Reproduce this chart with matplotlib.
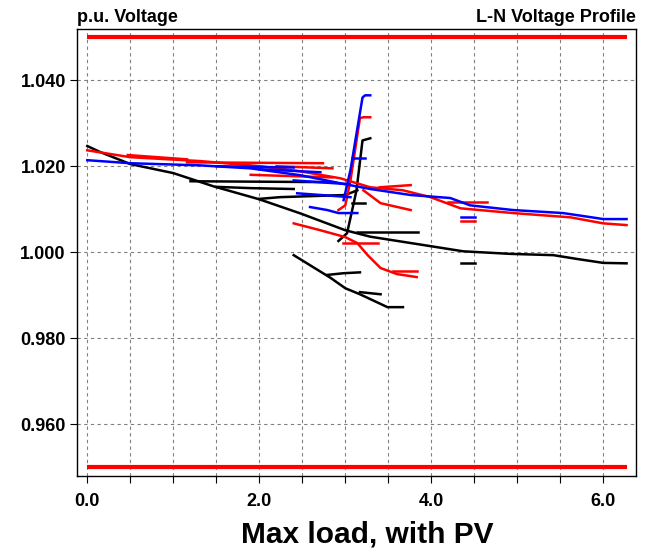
import matplotlib
matplotlib.use("Agg")
import matplotlib.pyplot as plt
from matplotlib.ticker import MultipleLocator, FormatStrFormatter

plt.rcParams['font.family'] = ['Liberation Sans', 'DejaVu Sans']
plt.rcParams['font.weight'] = 'bold'

# --- voltage limits (p.u.) ---
limit_x = [0.0, 6.27]
upper_limit = [1.05, 1.05]
lower_limit = [0.95, 0.95]

# --- black phase ---
bk_trunk_x = [0.0, 0.15, 0.5, 1.0, 1.47, 2.0, 2.48, 3.0, 3.29, 3.64, 3.99, 4.37, 4.92, 5.42, 5.7, 6.0, 6.27]
bk_trunk_y = [1.0247, 1.0233, 1.0205, 1.0184, 1.0153, 1.0123, 1.0090, 1.0051, 1.0036, 1.0025, 1.0014, 1.0002, 0.9996, 0.9993, 0.9984, 0.9975, 0.9974]
bk_b2_x = [1.2, 2.0, 2.79]
bk_b2_y = [1.0165, 1.0164, 1.0163]
bk_b3_x = [1.5, 1.9, 2.4]
bk_b3_y = [1.0152, 1.0149, 1.0147]
bk_b4_x = [2.0, 2.24, 3.0, 3.14]
bk_b4_y = [1.0124, 1.0128, 1.0133, 1.0144]
bk_vert_x = [2.92, 3.02, 3.08, 3.13, 3.20, 3.29]
bk_vert_y = [1.0026, 1.0044, 1.0098, 1.0144, 1.0260, 1.0265]
bk_stub_x = [3.08, 3.23]
bk_stub_y = [1.0114, 1.0114]
bk_b5_x = [3.14, 3.84]
bk_b5_y = [1.0047, 1.0047]
bk_low_x = [2.40, 2.83, 3.0, 3.17, 3.49, 3.67]
bk_low_y = [0.9993, 0.9940, 0.9916, 0.9902, 0.9872, 0.9872]
bk_low_b1_x = [2.79, 2.98, 3.17]
bk_low_b1_y = [0.9947, 0.9951, 0.9953]
bk_low_b2_x = [3.17, 3.41]
bk_low_b2_y = [0.9907, 0.9902]
bk_short_x = [4.34, 4.51]
bk_short_y = [0.9974, 0.9974]

# --- red phase ---
rd_main_x = [0.0, 0.5, 1.31, 2.01, 2.48, 2.94, 3.29, 3.67, 3.99, 4.34, 4.95, 5.62, 6.0, 6.27]
rd_main_y = [1.0237, 1.0221, 1.0212, 1.0200, 1.0188, 1.0172, 1.0151, 1.0144, 1.0128, 1.0102, 1.0091, 1.0081, 1.0067, 1.0063]
rd_b1_x = [0.47, 1.16]
rd_b1_y = [1.0226, 1.0216]
rd_b2_x = [1.16, 2.74]
rd_b2_y = [1.0209, 1.0207]
rd_b3_x = [2.2, 2.85]
rd_b3_y = [1.0200, 1.0195]
rd_b4_x = [1.9, 2.85]
rd_b4_y = [1.0180, 1.0174]
rd_vert_x = [2.92, 3.0, 3.06, 3.17, 3.21, 3.29]
rd_vert_y = [1.0098, 1.0109, 1.0167, 1.0312, 1.0314, 1.0314]
rd_stub_x = [3.4, 3.76]
rd_stub_y = [1.0151, 1.0156]
rd_desc_x = [3.21, 3.41, 3.76]
rd_desc_y = [1.0144, 1.0114, 1.0098]
rd_b6_x = [4.19, 4.65]
rd_b6_y = [1.0116, 1.0116]
rd_b7_x = [4.34, 4.51]
rd_b7_y = [1.0072, 1.0072]
rd_low_x = [2.40, 2.71, 3.0, 3.14, 3.26, 3.41, 3.60, 3.83]
rd_low_y = [1.0067, 1.0051, 1.0035, 1.0021, 0.9993, 0.9963, 0.9949, 0.9942]
rd_low_b1_x = [2.97, 3.38]
rd_low_b1_y = [1.0021, 1.0021]
rd_low_b2_x = [3.56, 3.83]
rd_low_b2_y = [0.9956, 0.9956]

# --- blue phase ---
bl_main_x = [0.0, 0.5, 1.31, 1.9, 2.48, 2.95, 3.29, 3.76, 4.22, 4.45, 4.95, 5.53, 5.70, 6.0, 6.27]
bl_main_y = [1.0214, 1.0207, 1.0202, 1.0195, 1.0179, 1.0160, 1.0147, 1.0133, 1.0126, 1.0109, 1.0098, 1.0091, 1.0086, 1.0077, 1.0077]
bl_b1_x = [1.5, 2.4]
bl_b1_y = [1.0200, 1.0197]
bl_b2_x = [2.0, 2.71]
bl_b2_y = [1.0193, 1.0186]
bl_b3_x = [2.4, 3.05]
bl_b3_y = [1.0167, 1.0158]
bl_b4_x = [2.59, 2.79, 2.92, 3.14]
bl_b4_y = [1.0105, 1.0098, 1.0091, 1.0091]
bl_b5_x = [2.44, 3.06]
bl_b5_y = [1.0137, 1.0128]
bl_vert_x = [2.98, 3.06, 3.20, 3.23, 3.29]
bl_vert_y = [1.0121, 1.0191, 1.0360, 1.0365, 1.0365]
bl_stub_x = [3.08, 3.23]
bl_stub_y = [1.0219, 1.0219]
bl_b6_x = [4.34, 4.51]
bl_b6_y = [1.0081, 1.0081]

black_lines = [(bk_trunk_x, bk_trunk_y), (bk_b2_x, bk_b2_y), (bk_b3_x, bk_b3_y),
               (bk_b4_x, bk_b4_y), (bk_vert_x, bk_vert_y), (bk_stub_x, bk_stub_y),
               (bk_b5_x, bk_b5_y), (bk_low_x, bk_low_y), (bk_low_b1_x, bk_low_b1_y),
               (bk_low_b2_x, bk_low_b2_y), (bk_short_x, bk_short_y)]
red_lines = [(rd_main_x, rd_main_y), (rd_b1_x, rd_b1_y), (rd_b2_x, rd_b2_y),
             (rd_b3_x, rd_b3_y), (rd_b4_x, rd_b4_y), (rd_vert_x, rd_vert_y),
             (rd_stub_x, rd_stub_y), (rd_desc_x, rd_desc_y), (rd_b6_x, rd_b6_y),
             (rd_b7_x, rd_b7_y), (rd_low_x, rd_low_y), (rd_low_b1_x, rd_low_b1_y),
             (rd_low_b2_x, rd_low_b2_y)]
blue_lines = [(bl_main_x, bl_main_y), (bl_b1_x, bl_b1_y), (bl_b2_x, bl_b2_y),
              (bl_b3_x, bl_b3_y), (bl_b4_x, bl_b4_y), (bl_b5_x, bl_b5_y),
              (bl_vert_x, bl_vert_y), (bl_stub_x, bl_stub_y), (bl_b6_x, bl_b6_y)]

fig = plt.figure(figsize=(6.48, 5.5), dpi=100)
ax = fig.add_axes([0.1188, 0.1345, 0.8627, 0.8125])

ax.plot(limit_x, upper_limit, color='red', lw=3, solid_capstyle='butt')
ax.plot(limit_x, lower_limit, color='red', lw=3, solid_capstyle='butt')

for x, y in black_lines:
    ax.plot(x, y, color='black', lw=1.8)
for x, y in red_lines:
    ax.plot(x, y, color='red', lw=1.8)
for x, y in blue_lines:
    ax.plot(x, y, color='blue', lw=1.8)

ax.set_xlim(-0.12, 6.38)
ax.set_ylim(0.9479, 1.0519)

ax.xaxis.set_major_locator(MultipleLocator(2.0))
ax.xaxis.set_minor_locator(MultipleLocator(0.5))
ax.xaxis.set_major_formatter(FormatStrFormatter('%.1f'))
ax.yaxis.set_major_locator(MultipleLocator(0.02))
ax.yaxis.set_major_formatter(FormatStrFormatter('%.3f'))

ax.grid(True, which='both', axis='x', color='gray', linestyle=(0, (3, 3)), lw=0.8)
ax.grid(True, which='major', axis='y', color='gray', linestyle=(0, (3, 3)), lw=0.8)
ax.set_axisbelow(True)

ax.tick_params(axis='both', which='both', direction='out', length=5, width=0.8,
               labelsize=13, pad=3)
ax.tick_params(axis='x', which='both', pad=7)
for lbl in ax.get_xticklabels() + ax.get_yticklabels():
    lbl.set_fontweight('bold')

for s in ax.spines.values():
    s.set_linewidth(1.0)

ax.text(0.0, 1.008, 'p.u. Voltage', transform=ax.transAxes, ha='left', va='bottom',
        fontsize=13, fontweight='bold')
ax.text(1.0, 1.008, 'L-N Voltage Profile', transform=ax.transAxes, ha='right', va='bottom',
        fontsize=13, fontweight='bold')
fig.text(0.567, 0.0145, 'Max load, with PV', ha='center', va='baseline',
         fontsize=21.5, fontweight='bold')

fig.savefig('out.png', dpi=100)
